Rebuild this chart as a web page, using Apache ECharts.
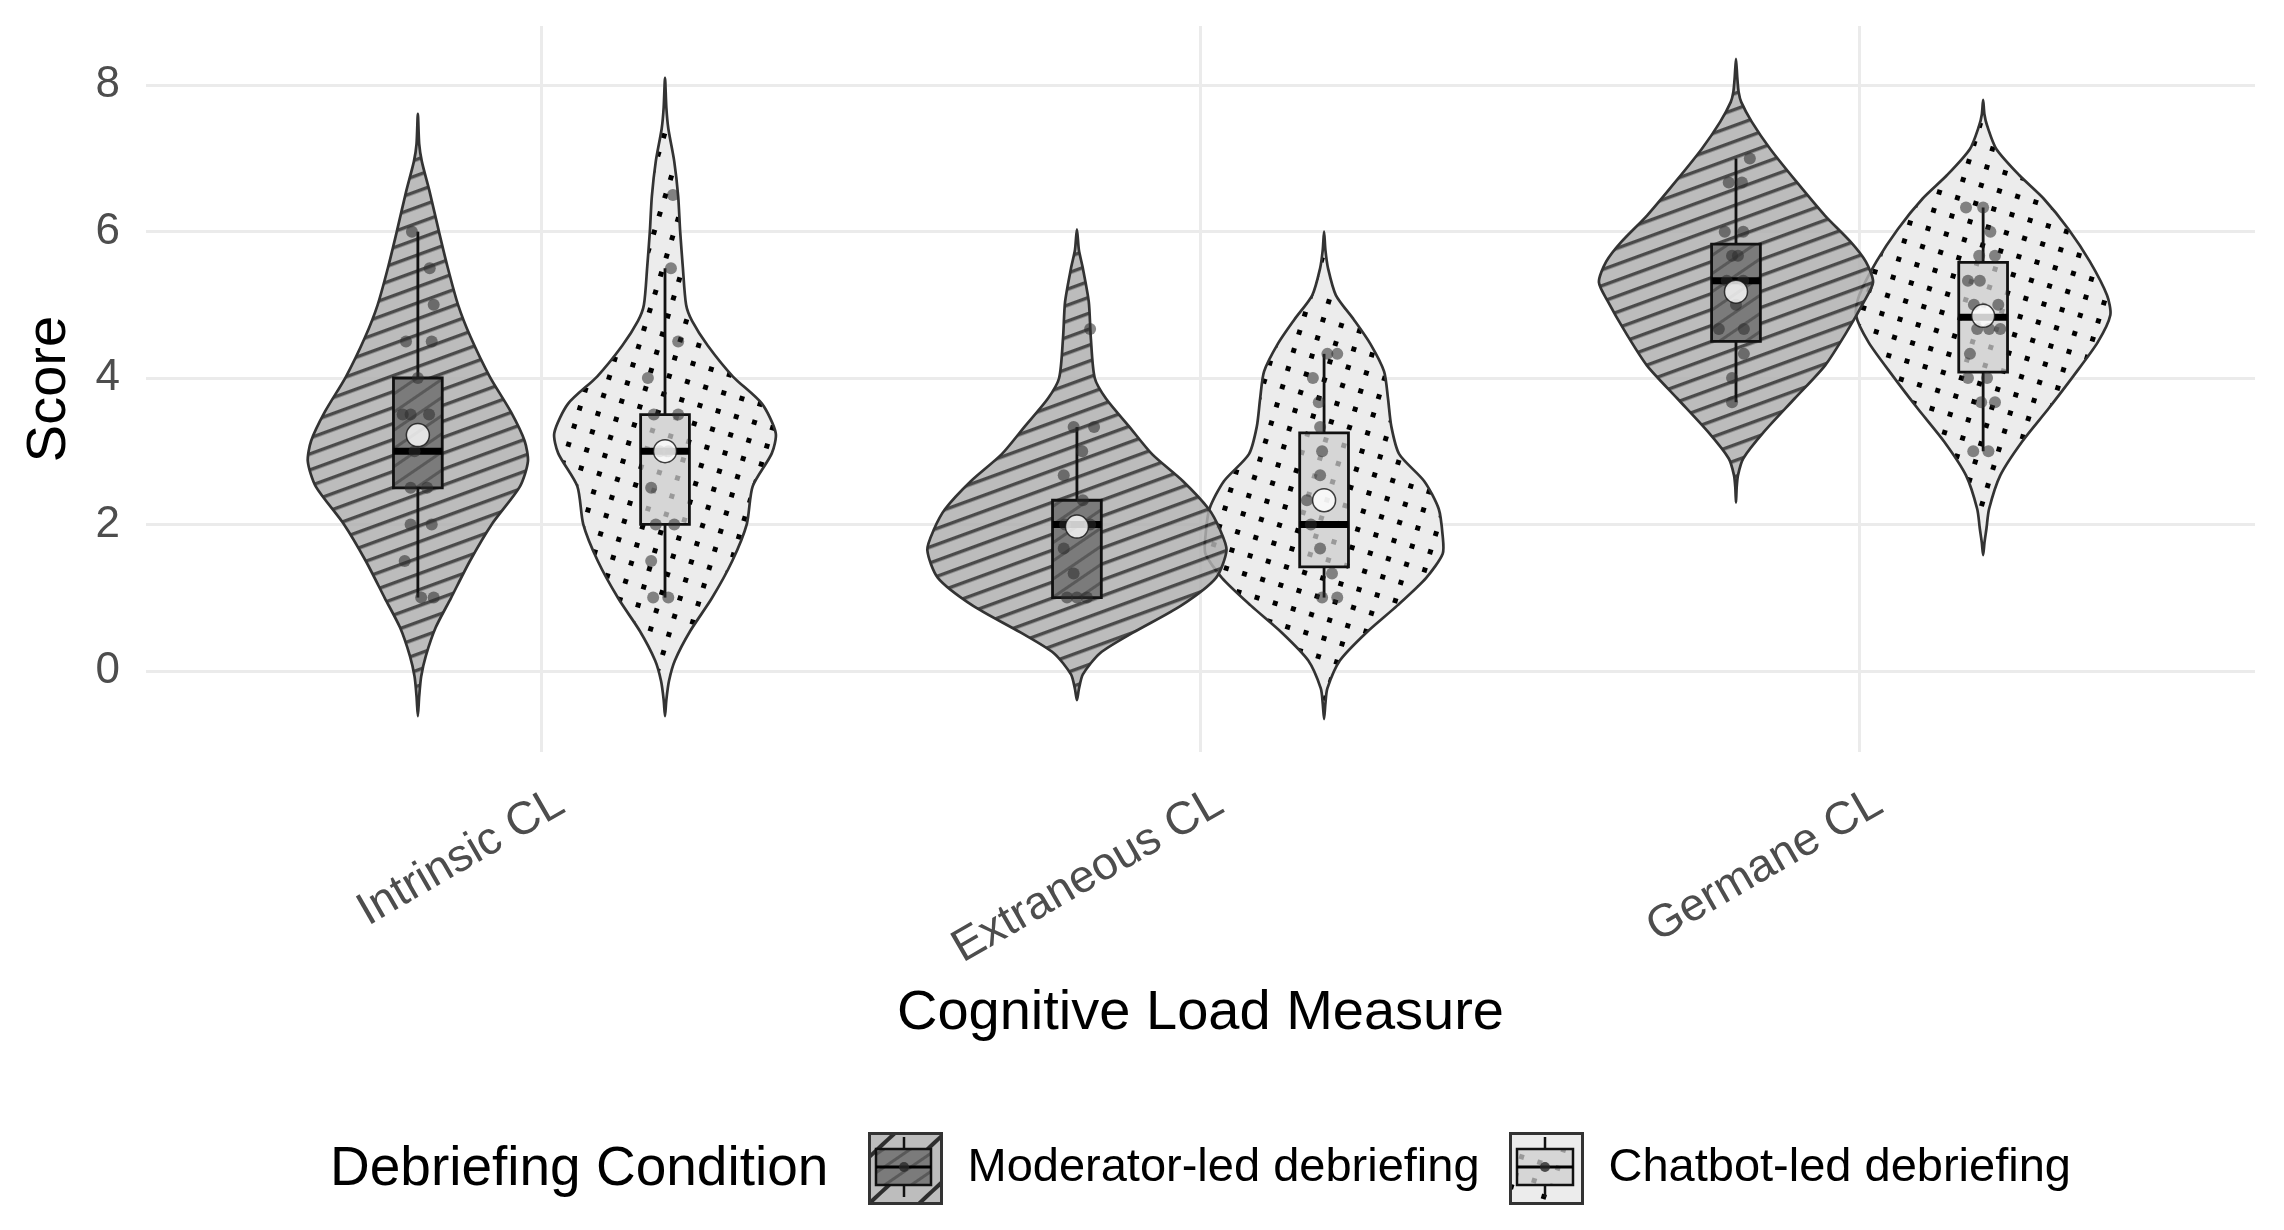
<!DOCTYPE html>
<html><head><meta charset="utf-8">
<script src="https://cdn.jsdelivr.net/npm/echarts@6/dist/echarts.min.js"></script>
<style>html,body{margin:0;padding:0;background:#fff}#c{width:2284px;height:1230px}</style>
</head><body><div id="c"></div>
<script>
// ---------------- data ----------------
const categories = ['Intrinsic CL', 'Extraneous CL', 'Germane CL'];
const groups = ['Moderator-led debriefing', 'Chatbot-led debriefing'];
const yTicks = [0, 2, 4, 6, 8];
const xTicks = [1, 2, 3];

// violin outlines: score levels and half-widths (in x-axis category units)
const modIntrLevels = [7.61, 7.2, 6.96, 6.54, 6.0, 5.52, 5.0, 4.56, 4.02, 3.54, 3.14, 2.86, 2.52, 2.0, 1.5, 0.99, 0.59, 0.2, -0.08, -0.35, -0.62];
const modIntrWidths = [0, 0.002, 0.006, 0.018, 0.032, 0.045, 0.061, 0.080, 0.109, 0.141, 0.162, 0.167, 0.155, 0.112, 0.079, 0.050, 0.027, 0.012, 0.005, 0.002, 0];
const chatIntrLevels = [8.1, 7.7, 7.41, 6.96, 6.48, 6.0, 5.52, 5.0, 4.78, 4.44, 4.02, 3.65, 3.25, 2.97, 2.52, 2.0, 1.5, 0.99, 0.54, 0.14, -0.14, -0.4, -0.62];
const chatIntrWidths = [0, 0.002, 0.005, 0.014, 0.020, 0.023, 0.027, 0.032, 0.041, 0.065, 0.103, 0.147, 0.168, 0.162, 0.133, 0.124, 0.102, 0.071, 0.038, 0.015, 0.006, 0.002, 0];
const modExtrLevels = [6.03, 5.75, 5.5, 5.04, 4.56, 4.0, 3.72, 3.34, 2.96, 2.59, 2.21, 1.93, 1.65, 1.27, 0.89, 0.52, 0.24, -0.05, -0.25, -0.4];
const modExtrWidths = [0, 0.003, 0.009, 0.018, 0.021, 0.027, 0.044, 0.079, 0.114, 0.161, 0.200, 0.217, 0.227, 0.211, 0.158, 0.085, 0.035, 0.009, 0.003, 0];
const chatExtrLevels = [6.0, 5.75, 5.5, 5.13, 4.8, 4.47, 4.09, 3.72, 3.34, 2.96, 2.59, 2.21, 1.84, 1.6, 1.27, 0.89, 0.52, 0.14, -0.24, -0.45, -0.66];
const chatExtrWidths = [0, 0.002, 0.006, 0.018, 0.045, 0.070, 0.091, 0.097, 0.102, 0.114, 0.152, 0.174, 0.180, 0.180, 0.155, 0.111, 0.064, 0.024, 0.005, 0.002, 0];
const modGermLevels = [8.36, 8.1, 7.91, 7.77, 7.5, 7.13, 6.68, 6.22, 5.86, 5.59, 5.31, 5.04, 4.63, 4.17, 3.72, 3.26, 2.9, 2.67, 2.5, 2.3];
const modGermWidths = [0, 0.002, 0.004, 0.008, 0.024, 0.052, 0.092, 0.135, 0.174, 0.197, 0.208, 0.194, 0.168, 0.135, 0.089, 0.042, 0.011, 0.003, 0.001, 0];
const chatGermLevels = [7.8, 7.6, 7.45, 7.13, 6.77, 6.45, 6.04, 5.59, 5.13, 4.86, 4.49, 4.04, 3.58, 3.13, 2.67, 2.21, 1.94, 1.75, 1.58];
const chatGermWidths = [0, 0.002, 0.006, 0.020, 0.055, 0.092, 0.129, 0.162, 0.188, 0.193, 0.174, 0.138, 0.099, 0.059, 0.026, 0.009, 0.005, 0.002, 0];

// box stats per category: [lower whisker, Q1, median, Q3, upper whisker]
const modBoxIntr = [1.0, 2.5, 3.0, 4.0, 6.0];
const modBoxExtr = [1.0, 1.0, 2.0, 2.33, 3.33];
const modBoxGerm = [3.67, 4.5, 5.33, 5.83, 7.0];
const chatBoxIntr = [1.0, 2.0, 3.0, 3.5, 5.5];
const chatBoxExtr = [1.0, 1.42, 2.0, 3.25, 4.33];
const chatBoxGerm = [3.0, 4.08, 4.83, 5.58, 6.33];

// means
const modMeans = [3.22, 1.97, 5.18];
const chatMeans = [3.0, 2.33, 4.85];

// individual (jittered) observations: values and horizontal jitter (category units)
const modIntrPts = [6, 5.5, 5, 4.5, 4.5, 4, 3.5, 3.5, 3.5, 3, 2.5, 2.5, 2, 2, 1.5, 1, 1];
const modIntrJit = [-0.009, 0.018, 0.024, -0.018, 0.021, 0, -0.023, -0.011, 0.017, -0.005, -0.011, 0.014, -0.011, 0.021, -0.020, 0.005, 0.024];
const chatIntrPts = [6.5, 5.5, 4.5, 4, 3.5, 3.5, 3, 3, 2.5, 2, 2, 1.5, 1, 1];
const chatIntrJit = [0.012, 0.009, 0.020, -0.026, -0.017, 0.020, -0.008, 0.005, -0.021, -0.014, 0.014, -0.021, -0.018, 0.005];
const modExtrPts = [4.67, 3.33, 3.33, 3, 2.67, 2.33, 2, 2, 1.67, 1.33, 1, 1, 1];
const modExtrJit = [0.020, -0.005, 0.026, 0.008, -0.020, 0.009, -0.018, 0.020, -0.020, -0.005, -0.015, 0, 0.015];
const chatExtrPts = [4.33, 4.33, 4, 3.67, 3.33, 3, 2.67, 2.33, 2, 1.67, 1.33, 1, 1];
const chatExtrJit = [0.005, 0.020, -0.017, -0.008, -0.006, -0.003, -0.006, -0.026, -0.020, -0.006, 0.012, -0.003, 0.020];
const modGermPts = [7, 6.67, 6.67, 6, 6, 5.67, 5.67, 5.33, 5.33, 5, 4.67, 4.67, 4.33, 4, 3.67];
const modGermJit = [0.021, -0.011, 0.009, -0.017, 0.011, -0.006, 0.003, -0.014, 0.011, 0, -0.026, 0.012, 0.012, -0.006, -0.006];
const chatGermPts = [6.33, 6.33, 6, 5.67, 5.67, 5.33, 5.33, 5, 5, 4.67, 4.67, 4.67, 4.33, 4, 4, 3.67, 3.67, 3, 3];
const chatGermJit = [-0.026, 0, 0.011, -0.006, 0.018, -0.023, -0.005, -0.014, 0.023, -0.009, 0.009, 0.026, -0.020, -0.023, 0.006, -0.003, 0.018, -0.015, 0.008];

// ---------------- styling helpers ----------------
const FONT = '"Liberation Sans", Arial, Helvetica, sans-serif';
const DODGE = 0.1875;
const BOX_HW = 0.037;

function makeTile(w, h, bg, draw) {
  const c = document.createElement('canvas');
  c.width = w; c.height = h;
  const ctx = c.getContext('2d');
  ctx.fillStyle = bg; ctx.fillRect(0, 0, w, h);
  draw(ctx);
  return c;
}
const stripeTile = makeTile(40, 15, '#b0b0b0', ctx => { ctx.fillStyle = '#2a2a2a'; ctx.fillRect(0, 6, 40, 3.4); });
const boxStripeTile = makeTile(40, 15, '#7b7b7b', ctx => { ctx.fillStyle = '#595959'; ctx.fillRect(0, 6, 40, 3); });
const dotTile = makeTile(19, 19, '#ececec', ctx => { ctx.fillStyle = '#000'; ctx.fillRect(7, 7, 5, 5); });
const boxDotTile = makeTile(19, 19, '#d6d6d6', ctx => { ctx.fillStyle = '#999'; ctx.fillRect(7, 7, 5, 5); });
const legStripeTile = makeTile(60, 34, '#bdbdbd', ctx => { ctx.fillStyle = '#2e2e2e'; ctx.fillRect(0, 15, 60, 4); });

const stripeFill = { image: stripeTile, repeat: 'repeat', rotation: -0.35 };
const boxStripeFill = { image: boxStripeTile, repeat: 'repeat', rotation: -0.6 };
const dotFill = { image: dotTile, repeat: 'repeat', rotation: 0.3 };
const boxDotFill = { image: boxDotTile, repeat: 'repeat', rotation: 0.3 };
const legStripeFill = { image: legStripeTile, repeat: 'repeat', rotation: -0.75 };
const legDotFill = { image: makeTile(34, 34, '#ececec', ctx => { ctx.fillStyle = '#000'; ctx.fillRect(14, 14, 5, 5); }), repeat: 'repeat', rotation: 0.3 };

const modProfiles = [
  { levels: modIntrLevels, widths: modIntrWidths },
  { levels: modExtrLevels, widths: modExtrWidths },
  { levels: modGermLevels, widths: modGermWidths }
];
const chatProfiles = [
  { levels: chatIntrLevels, widths: chatIntrWidths },
  { levels: chatExtrLevels, widths: chatExtrWidths },
  { levels: chatGermLevels, widths: chatGermWidths }
];

function violinRender(profiles, offset, fill, opacity) {
  return function (params, api) {
    const p = profiles[params.dataIndex];
    const xc = api.value(0) + offset;
    const pts = [];
    for (let k = 0; k < p.levels.length; k++) pts.push(api.coord([xc + p.widths[k], p.levels[k]]));
    for (let k = p.levels.length - 2; k >= 1; k--) pts.push(api.coord([xc - p.widths[k], p.levels[k]]));
    return {
      type: 'polygon',
      shape: { points: pts, smooth: 0.25 },
      style: { fill: fill, fillOpacity: opacity, stroke: '#333', lineWidth: 2.7 }
    };
  };
}

function boxRender(offset, fill) {
  return function (params, api) {
    const x = api.value(0) + offset;
    const mn = api.value(1), q1 = api.value(2), md = api.value(3), q3 = api.value(4), mx = api.value(5);
    const pTop = api.coord([x, mx]), pQ3 = api.coord([x, q3]), pQ1 = api.coord([x, q1]), pMin = api.coord([x, mn]);
    const lt = api.coord([x - BOX_HW, q3]), rb = api.coord([x + BOX_HW, q1]);
    const ml = api.coord([x - BOX_HW, md]), mr = api.coord([x + BOX_HW, md]);
    return {
      type: 'group',
      children: [
        { type: 'line', shape: { x1: pTop[0], y1: pTop[1], x2: pQ3[0], y2: pQ3[1] }, style: { stroke: '#111', lineWidth: 2.8 } },
        { type: 'line', shape: { x1: pQ1[0], y1: pQ1[1], x2: pMin[0], y2: pMin[1] }, style: { stroke: '#111', lineWidth: 2.8 } },
        { type: 'rect', shape: { x: lt[0], y: lt[1], width: rb[0] - lt[0], height: rb[1] - lt[1] }, style: { fill: fill, stroke: '#111', lineWidth: 2.8 } },
        { type: 'line', shape: { x1: ml[0], y1: ml[1], x2: mr[0], y2: mr[1] }, style: { stroke: '#000', lineWidth: 7 } }
      ]
    };
  };
}

function pointData(ptsList, jitList, offset) {
  const out = [];
  ptsList.forEach((vals, ci) => {
    vals.forEach((v, k) => out.push([ci + 1 + offset + jitList[ci][k], v]));
  });
  return out;
}

const catData = xTicks.map(x => [x]);
const modBoxData = [modBoxIntr, modBoxExtr, modBoxGerm].map((b, i) => [i + 1].concat(b));
const chatBoxData = [chatBoxIntr, chatBoxExtr, chatBoxGerm].map((b, i) => [i + 1].concat(b));

const chart = echarts.init(document.getElementById('c'), null, { renderer: 'canvas', width: 2284, height: 1230 });

const option = {
  animation: false,
  backgroundColor: '#ffffff',
  textStyle: { fontFamily: FONT },
  title: {
    text: 'Debriefing Condition', left: 330, top: 1142, padding: 0,
    textStyle: { fontSize: 55, fontWeight: 'normal', color: '#000', fontFamily: FONT }
  },
  grid: { left: 146, right: 29, top: 26, bottom: 478, containLabel: false, outerBoundsMode: 'none' },
  xAxis: {
    type: 'value', min: 0.4, max: 3.6,
    axisLine: { show: false },
    axisTick: { show: false, customValues: xTicks },
    splitLine: { show: true, lineStyle: { color: '#ebebeb', width: 3 } },
    axisLabel: {
      customValues: xTicks.map(v => v + 0.012),
      formatter: v => categories[Math.round(v) - 1],
      rotate: 30, fontSize: 46, color: '#4d4d4d', margin: 28,
      align: 'right', verticalAlign: 'top', fontFamily: FONT
    },
    name: 'Cognitive Load Measure', nameLocation: 'middle', nameGap: 234,
    nameTextStyle: { fontSize: 56, color: '#000', fontFamily: FONT }
  },
  yAxis: {
    type: 'value', min: -1.11, max: 8.81,
    axisLine: { show: false },
    axisTick: { show: false, customValues: yTicks },
    splitLine: { show: true, lineStyle: { color: '#ebebeb', width: 3 } },
    axisLabel: { customValues: yTicks, fontSize: 44, color: '#4d4d4d', margin: 26, fontFamily: FONT },
    name: 'Score', nameLocation: 'middle', nameGap: 68,
    nameTextStyle: { fontSize: 56, color: '#000', fontFamily: FONT }
  },
  legend: [
    {
      left: 863, top: 1127, itemWidth: 72, itemHeight: 70, selectedMode: false,
      data: [{ name: groups[0], icon: 'rect', itemStyle: { color: legStripeFill, borderColor: '#333', borderWidth: 3 } }],
      textStyle: { fontSize: 47, color: '#000', padding: [0, 0, 0, 21], fontFamily: FONT }
    },
    {
      left: 1504, top: 1127, itemWidth: 72, itemHeight: 70, selectedMode: false,
      data: [{ name: groups[1], icon: 'rect', itemStyle: { color: legDotFill, borderColor: '#333', borderWidth: 3 } }],
      textStyle: { fontSize: 47, color: '#000', padding: [0, 0, 0, 21], fontFamily: FONT }
    }
  ],
  graphic: [
    // legend key inner box glyphs
    { type: 'line', z: 100, shape: { x1: 904, y1: 1137, x2: 904, y2: 1197 }, style: { stroke: '#111', lineWidth: 2.5 } },
    { type: 'rect', z: 100, shape: { x: 876, y: 1149, width: 55, height: 36 }, style: { fill: boxStripeFill, stroke: '#111', lineWidth: 2.5 } },
    { type: 'line', z: 100, shape: { x1: 876, y1: 1167, x2: 931, y2: 1167 }, style: { stroke: '#000', lineWidth: 3 } },
    { type: 'circle', z: 101, shape: { cx: 904, cy: 1167, r: 5 }, style: { fill: 'rgba(40,40,40,0.8)' } },
    { type: 'line', z: 100, shape: { x1: 1545, y1: 1137, x2: 1545, y2: 1197 }, style: { stroke: '#111', lineWidth: 2.5 } },
    { type: 'rect', z: 100, shape: { x: 1517, y: 1149, width: 56, height: 36 }, style: { fill: boxDotFill, stroke: '#111', lineWidth: 2.5 } },
    { type: 'line', z: 100, shape: { x1: 1517, y1: 1167, x2: 1573, y2: 1167 }, style: { stroke: '#000', lineWidth: 3 } },
    { type: 'circle', z: 101, shape: { cx: 1545, cy: 1167, r: 5 }, style: { fill: 'rgba(40,40,40,0.8)' } }
  ],
  series: [
    { name: groups[1], type: 'custom', z: 2, silent: true, data: catData, renderItem: violinRender(chatProfiles, DODGE, dotFill, 1) },
    { name: groups[0], type: 'custom', z: 3, silent: true, data: catData, renderItem: violinRender(modProfiles, -DODGE, stripeFill, 0.85) },
    { name: 'modBox', type: 'custom', z: 4, silent: true, data: modBoxData, renderItem: boxRender(-DODGE, boxStripeFill) },
    { name: 'chatBox', type: 'custom', z: 4, silent: true, data: chatBoxData, renderItem: boxRender(DODGE, boxDotFill) },
    {
      name: 'modPts', type: 'scatter', z: 5, silent: true, symbolSize: 12,
      itemStyle: { color: 'rgba(45,45,45,0.7)' },
      data: pointData([modIntrPts, modExtrPts, modGermPts], [modIntrJit, modExtrJit, modGermJit], -DODGE)
    },
    {
      name: 'chatPts', type: 'scatter', z: 5, silent: true, symbolSize: 12,
      itemStyle: { color: 'rgba(45,45,45,0.7)' },
      data: pointData([chatIntrPts, chatExtrPts, chatGermPts], [chatIntrJit, chatExtrJit, chatGermJit], DODGE)
    },
    {
      name: 'modMean', type: 'scatter', z: 6, silent: true, symbolSize: 23,
      itemStyle: { color: '#ffffff', borderColor: '#111', borderWidth: 1.5 },
      data: modMeans.map((m, i) => [i + 1 - DODGE, m])
    },
    {
      name: 'chatMean', type: 'scatter', z: 6, silent: true, symbolSize: 23,
      itemStyle: { color: '#ffffff', borderColor: '#111', borderWidth: 1.5 },
      data: chatMeans.map((m, i) => [i + 1 + DODGE, m])
    }
  ]
};
chart.setOption(option);
</script>
</body></html>
